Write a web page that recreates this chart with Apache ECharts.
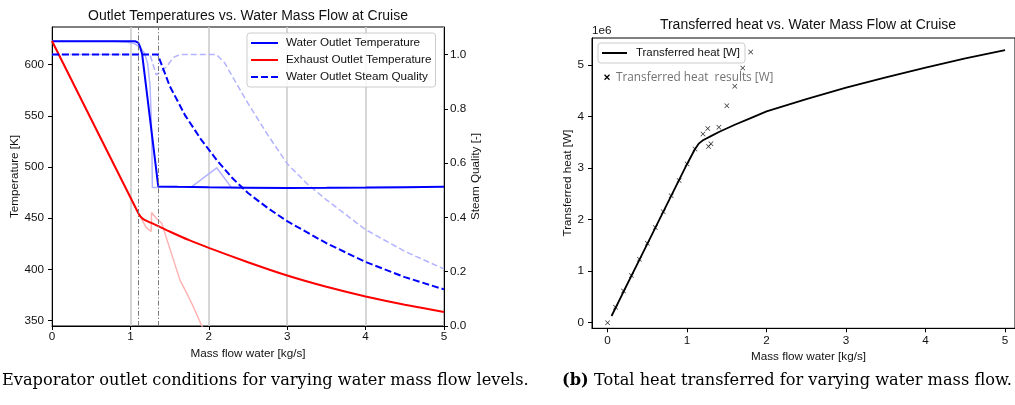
<!DOCTYPE html>
<html>
<head>
<meta charset="utf-8">
<script src="https://cdn.jsdelivr.net/npm/echarts@6/dist/echarts.min.js"></script>
<style>
html, body { margin: 0; padding: 0; background: #fff; }
#chart { width: 1015px; height: 405px; }
</style>
</head>
<body>
<div id="chart"></div>
<script>
// ---- Evaporator outlet conditions vs. water mass flow [kg/s] ----
const waterTempFlow  = [0, 1.06, 1.1, 1.125, 1.15, 1.33, 1.355, 1.6, 2, 2.5, 3, 3.5, 4, 4.5, 5];
const waterTempK     = [622.8, 622.8, 621.5, 617, 610, 497, 481, 480.6, 480.2, 479.8, 479.5, 479.6, 479.9, 480.3, 480.7];

const exhaustFlow    = [0, 1.1, 1.13, 1.16, 1.2, 1.26, 1.356, 1.5, 1.75, 2, 2.5, 3, 3.5, 4, 4.5, 5];
const exhaustK       = [623, 455, 451.5, 449.3, 447.6, 445.6, 442.3, 437, 428.5, 421, 407, 394, 383, 373.5, 365.5, 358.3];

const qualityFlow    = [0, 1.35, 1.5, 1.7, 1.9, 2.1, 2.3, 2.5, 2.75, 3, 3.5, 4, 4.5, 5];
const qualityValue   = [1, 1, 0.885, 0.775, 0.688, 0.612, 0.545, 0.49, 0.435, 0.386, 0.305, 0.236, 0.18, 0.135];

// Secondary run (drawn faint)
const waterTempFlowB = [0, 0.8, 0.95, 1.05, 1.12, 1.18, 1.22, 1.25, 1.265, 1.275, 1.28, 1.5, 1.78, 2.1, 2.29, 3, 4, 4.7];
const waterTempKB    = [622.8, 622.7, 622, 620.5, 617, 611, 601, 580, 550, 515, 480, 480.2, 480.6, 499.2, 479.8, 479.7, 479.8, 480.2];

const exhaustFlowB   = [0, 1.1, 1.13, 1.2, 1.265, 1.27, 1.33, 1.4, 1.5, 1.63, 1.718, 1.8, 1.91, 2.0];
const exhaustKB      = [623, 455, 451, 441, 437, 455.5, 450, 445, 421, 390, 376.8, 364, 345, 332];

const qualityFlowB   = [0, 1.25, 1.33, 1.46, 1.55, 1.63, 2.1, 2.2, 2.3, 2.5, 2.75, 3, 3.25, 3.5, 4, 4.5, 5];
const qualityValueB  = [1, 1, 0.925, 0.955, 0.99, 1, 1, 0.97, 0.92, 0.82, 0.705, 0.598, 0.525, 0.465, 0.355, 0.275, 0.21];

// Flow levels where the outlet regime changes
const transitionFlows = [1.1, 1.35];

const tempTicks    = [350, 400, 450, 500, 550, 600];
const qualityTicks = [0, 0.2, 0.4, 0.6, 0.8, 1.0];

// ---- Transferred heat vs. water mass flow ----
const heatFlow   = [0.05, 0.2, 0.4, 0.6, 0.8, 1.0, 1.1, 1.15, 1.2, 1.3, 1.4, 1.6, 1.8, 2.0, 2.5, 3.0, 3.5, 4.0, 4.5, 5.0];
const heatW      = [0.13e6, 0.6e6, 1.22e6, 1.84e6, 2.46e6, 3.08e6, 3.37e6, 3.48e6, 3.54e6, 3.62e6, 3.70e6, 3.84e6, 3.97e6, 4.10e6, 4.34e6, 4.56e6, 4.76e6, 4.95e6, 5.13e6, 5.29e6];

const resultFlow = [0, 0.1, 0.2, 0.3, 0.4, 0.5, 0.6, 0.7, 0.8, 0.9, 1.0, 1.1, 1.2, 1.26, 1.27, 1.3, 1.4, 1.5, 1.6, 1.7, 1.8];
const resultW    = [0, 0.30e6, 0.615e6, 0.915e6, 1.23e6, 1.54e6, 1.845e6, 2.155e6, 2.465e6, 2.76e6, 3.08e6, 3.37e6, 3.66e6, 3.77e6, 3.42e6, 3.47e6, 3.79e6, 4.21e6, 4.59e6, 4.94e6, 5.25e6];

const heatTicks  = [0, 1e6, 2e6, 3e6, 4e6, 5e6];
const flowTicks  = [0, 1, 2, 3, 4, 5];

const zip = (xs, ys) => xs.map((x, i) => [x, ys[i]]);

const FONT = 'Liberation Sans';
const TXT = '#111';
const FS = 11.7;
const crossPath = 'path://M0,1L1,0L5,4L9,0L10,1L6,5L10,9L9,10L5,6L1,10L0,9L4,5Z';

function valueAxisBase(extra) {
  return Object.assign({
    type: 'value',
    axisLine: { show: true, onZero: false, lineStyle: { color: '#000', width: 1 } },
    axisTick: { show: true, inside: false, length: 4, lineStyle: { color: '#000', width: 1 } },
    axisLabel: { color: TXT, fontFamily: FONT, fontSize: FS },
    splitLine: { show: false },
    nameLocation: 'middle',
    nameTextStyle: { color: TXT, fontFamily: FONT, fontSize: FS }
  }, extra);
}

const chart = echarts.init(document.getElementById('chart'), null, { renderer: 'canvas' });

const option = {
  animation: false,
  backgroundColor: '#fff',
  grid: [
    { left: 52, top: 27, width: 392, height: 299, show: true, borderColor: '#000', borderWidth: 1, backgroundColor: 'transparent' },
    { left: 592, top: 38, width: 423, height: 290.3, show: true, borderColor: '#000', borderWidth: 1, backgroundColor: 'transparent' }
  ],
  xAxis: [
    valueAxisBase({
      gridIndex: 0, min: 0, max: 5, interval: 1,
      name: 'Mass flow water [kg/s]', nameGap: 21,
      axisLabel: { color: TXT, fontFamily: FONT, fontSize: FS, margin: 5 },
      splitLine: { show: true, lineStyle: { color: '#cccccc', width: 1.6 } }
    }),
    valueAxisBase({
      gridIndex: 1, min: -0.196, max: 5.125,
      name: 'Mass flow water [kg/s]', nameGap: 21,
      nameTextStyle: { color: TXT, fontFamily: FONT, fontSize: FS, padding: [0, 0, 0, 10] },
      axisTick: { show: true, inside: false, length: 4, customValues: flowTicks, lineStyle: { color: '#000', width: 1 } },
      axisLabel: { color: TXT, fontFamily: FONT, fontSize: FS, margin: 6, customValues: flowTicks }
    })
  ],
  yAxis: [
    valueAxisBase({
      gridIndex: 0, position: 'left', min: 344.7, max: 636.7,
      name: 'Temperature [K]', nameGap: 30, nameRotate: 90,
      axisTick: { show: true, inside: false, length: 4, customValues: tempTicks, lineStyle: { color: '#000', width: 1 } },
      axisLabel: { color: TXT, fontFamily: FONT, fontSize: FS, margin: 8, customValues: tempTicks }
    }),
    valueAxisBase({
      gridIndex: 0, position: 'right', min: 0, max: 1.1017,
      name: 'Steam Quality [-]', nameGap: 26, nameRotate: 90,
      axisTick: { show: true, inside: false, length: 4, customValues: qualityTicks, lineStyle: { color: '#000', width: 1 } },
      axisLabel: { color: TXT, fontFamily: FONT, fontSize: FS, margin: 6, customValues: qualityTicks,
                   formatter: v => Number(v).toFixed(1) }
    }),
    valueAxisBase({
      gridIndex: 1, position: 'left', min: -0.1087e6, max: 5.524e6,
      name: 'Transferred heat [W]', nameGap: 18, nameRotate: 90,
      axisTick: { show: true, inside: false, length: 4, customValues: heatTicks, lineStyle: { color: '#000', width: 1 } },
      axisLabel: { color: TXT, fontFamily: FONT, fontSize: FS, margin: 8, customValues: heatTicks,
                   formatter: v => String(Math.round(v / 1e6)) }
    })
  ],
  legend: [
    {
      data: ['Water Outlet Temperature', 'Exhaust Outlet Temperature', 'Water Outlet Steam Quality'],
      orient: 'vertical', left: 247, top: 33,
      padding: [4, 4, 4, 3], itemGap: 5, itemWidth: 27, itemHeight: 12,
      backgroundColor: 'rgba(255,255,255,0.85)', borderColor: '#cccccc', borderWidth: 1, borderRadius: 3,
      itemStyle: { opacity: 0 },
      textStyle: { color: TXT, fontFamily: FONT, fontSize: FS, padding: [0, 0, 0, 3], lineHeight: 12 },
      selectedMode: false
    },
    {
      data: ['Transferred heat [W]'],
      orient: 'vertical', left: 598, top: 43,
      padding: [4, 5, 4, 3], itemWidth: 25, itemHeight: 12,
      backgroundColor: 'rgba(255,255,255,0.85)', borderColor: '#cccccc', borderWidth: 1, borderRadius: 3,
      itemStyle: { opacity: 0 },
      textStyle: { color: TXT, fontFamily: FONT, fontSize: 11.4, padding: [0, 0, 0, 4], lineHeight: 12 },
      selectedMode: false
    }
  ],
  series: [
    {
      name: 'Exhaust Outlet Temperature (run B)', type: 'line', xAxisIndex: 0, yAxisIndex: 0,
      data: zip(exhaustFlowB, exhaustKB), symbol: 'none', clip: true, z: 2,
      lineStyle: { color: '#ffb3b3', width: 1.5 }
    },
    {
      name: 'Water Outlet Temperature (run B)', type: 'line', xAxisIndex: 0, yAxisIndex: 0,
      data: zip(waterTempFlowB, waterTempKB), symbol: 'none', clip: true, z: 2,
      lineStyle: { color: '#b3b3ff', width: 1.5 }
    },
    {
      name: 'Water Outlet Steam Quality (run B)', type: 'line', xAxisIndex: 0, yAxisIndex: 1,
      data: zip(qualityFlowB, qualityValueB), symbol: 'none', clip: true, z: 2,
      lineStyle: { color: '#b3b3ff', width: 1.5, type: [6, 3] }
    },
    {
      name: 'Water Outlet Temperature', type: 'line', xAxisIndex: 0, yAxisIndex: 0,
      data: zip(waterTempFlow, waterTempK), symbol: 'none', clip: true, z: 4,
      itemStyle: { color: '#0000ff' },
      lineStyle: { color: '#0000ff', width: 2 },
      markLine: {
        silent: true, symbol: 'none', label: { show: false }, animation: false,
        lineStyle: { color: '#7a7a7a', width: 1, type: [5, 2, 1.2, 2] },
        data: transitionFlows.map(f => ({ xAxis: f }))
      }
    },
    {
      name: 'Exhaust Outlet Temperature', type: 'line', xAxisIndex: 0, yAxisIndex: 0,
      data: zip(exhaustFlow, exhaustK), symbol: 'none', clip: true, z: 4, smooth: 0.15,
      itemStyle: { color: '#ff0000' },
      lineStyle: { color: '#ff0000', width: 2 }
    },
    {
      name: 'Water Outlet Steam Quality', type: 'line', xAxisIndex: 0, yAxisIndex: 1,
      data: zip(qualityFlow, qualityValue), symbol: 'none', clip: true, z: 4,
      itemStyle: { color: '#0000ff' },
      lineStyle: { color: '#0000ff', width: 2, type: [7, 3] }
    },
    {
      name: 'Transferred heat [W]', type: 'line', xAxisIndex: 1, yAxisIndex: 2,
      data: zip(heatFlow, heatW), symbol: 'none', clip: true, z: 4,
      itemStyle: { color: '#000' },
      lineStyle: { color: '#000', width: 1.8 }
    },
    {
      name: 'Transferred heat results [W]', type: 'scatter', xAxisIndex: 1, yAxisIndex: 2,
      data: zip(resultFlow, resultW), symbol: crossPath, symbolSize: 5, z: 5,
      itemStyle: { color: '#000' }
    }
  ],
  graphic: [
    { type: 'text', x: 248, y: 15.7, z: 10,
      style: { text: 'Outlet Temperatures vs. Water Mass Flow at Cruise', fill: TXT,
               font: '14px "Liberation Sans"', textAlign: 'center', textVerticalAlign: 'middle' } },
    { type: 'text', x: 808, y: 25, z: 10,
      style: { text: 'Transferred heat vs. Water Mass Flow at Cruise', fill: TXT,
               font: '14px "Liberation Sans"', textAlign: 'center', textVerticalAlign: 'middle' } },
    { type: 'text', x: 592, y: 30.5, z: 10,
      style: { text: '1e6', fill: TXT, font: FS + 'px "Liberation Sans"', textAlign: 'left', textVerticalAlign: 'middle' } },
    { type: 'line', z: 10, shape: { x1: 604.5, y1: 74.8, x2: 609.5, y2: 79.8 }, style: { stroke: '#000', lineWidth: 1.3 } },
    { type: 'line', z: 10, shape: { x1: 609.5, y1: 74.8, x2: 604.5, y2: 79.8 }, style: { stroke: '#000', lineWidth: 1.3 } },
    { type: 'text', x: 616, y: 77.3, z: 10,
      style: { text: 'Transferred heat  results [W]', fill: '#737373', font: '11.8px "Open Sans"',
               textAlign: 'left', textVerticalAlign: 'middle' } },
    { type: 'text', x: 2, y: 381, z: 10,
      style: { text: 'Evaporator outlet conditions for varying water mass flow levels.', fill: '#000',
               font: '16.2px "DejaVu Serif"', textAlign: 'left', textVerticalAlign: 'middle' } },
    { type: 'text', x: 1012, y: 381, z: 10,
      style: { text: '{b|(b)} Total heat transferred for varying water mass flow.', fill: '#000',
               font: '16.2px "DejaVu Serif"', textAlign: 'right', textVerticalAlign: 'middle',
               rich: { b: { fontWeight: 'bold', fontFamily: 'DejaVu Serif', fontSize: 16.2, fill: '#000' } } } }
  ]
};

chart.setOption(option);
</script>
</body>
</html>
